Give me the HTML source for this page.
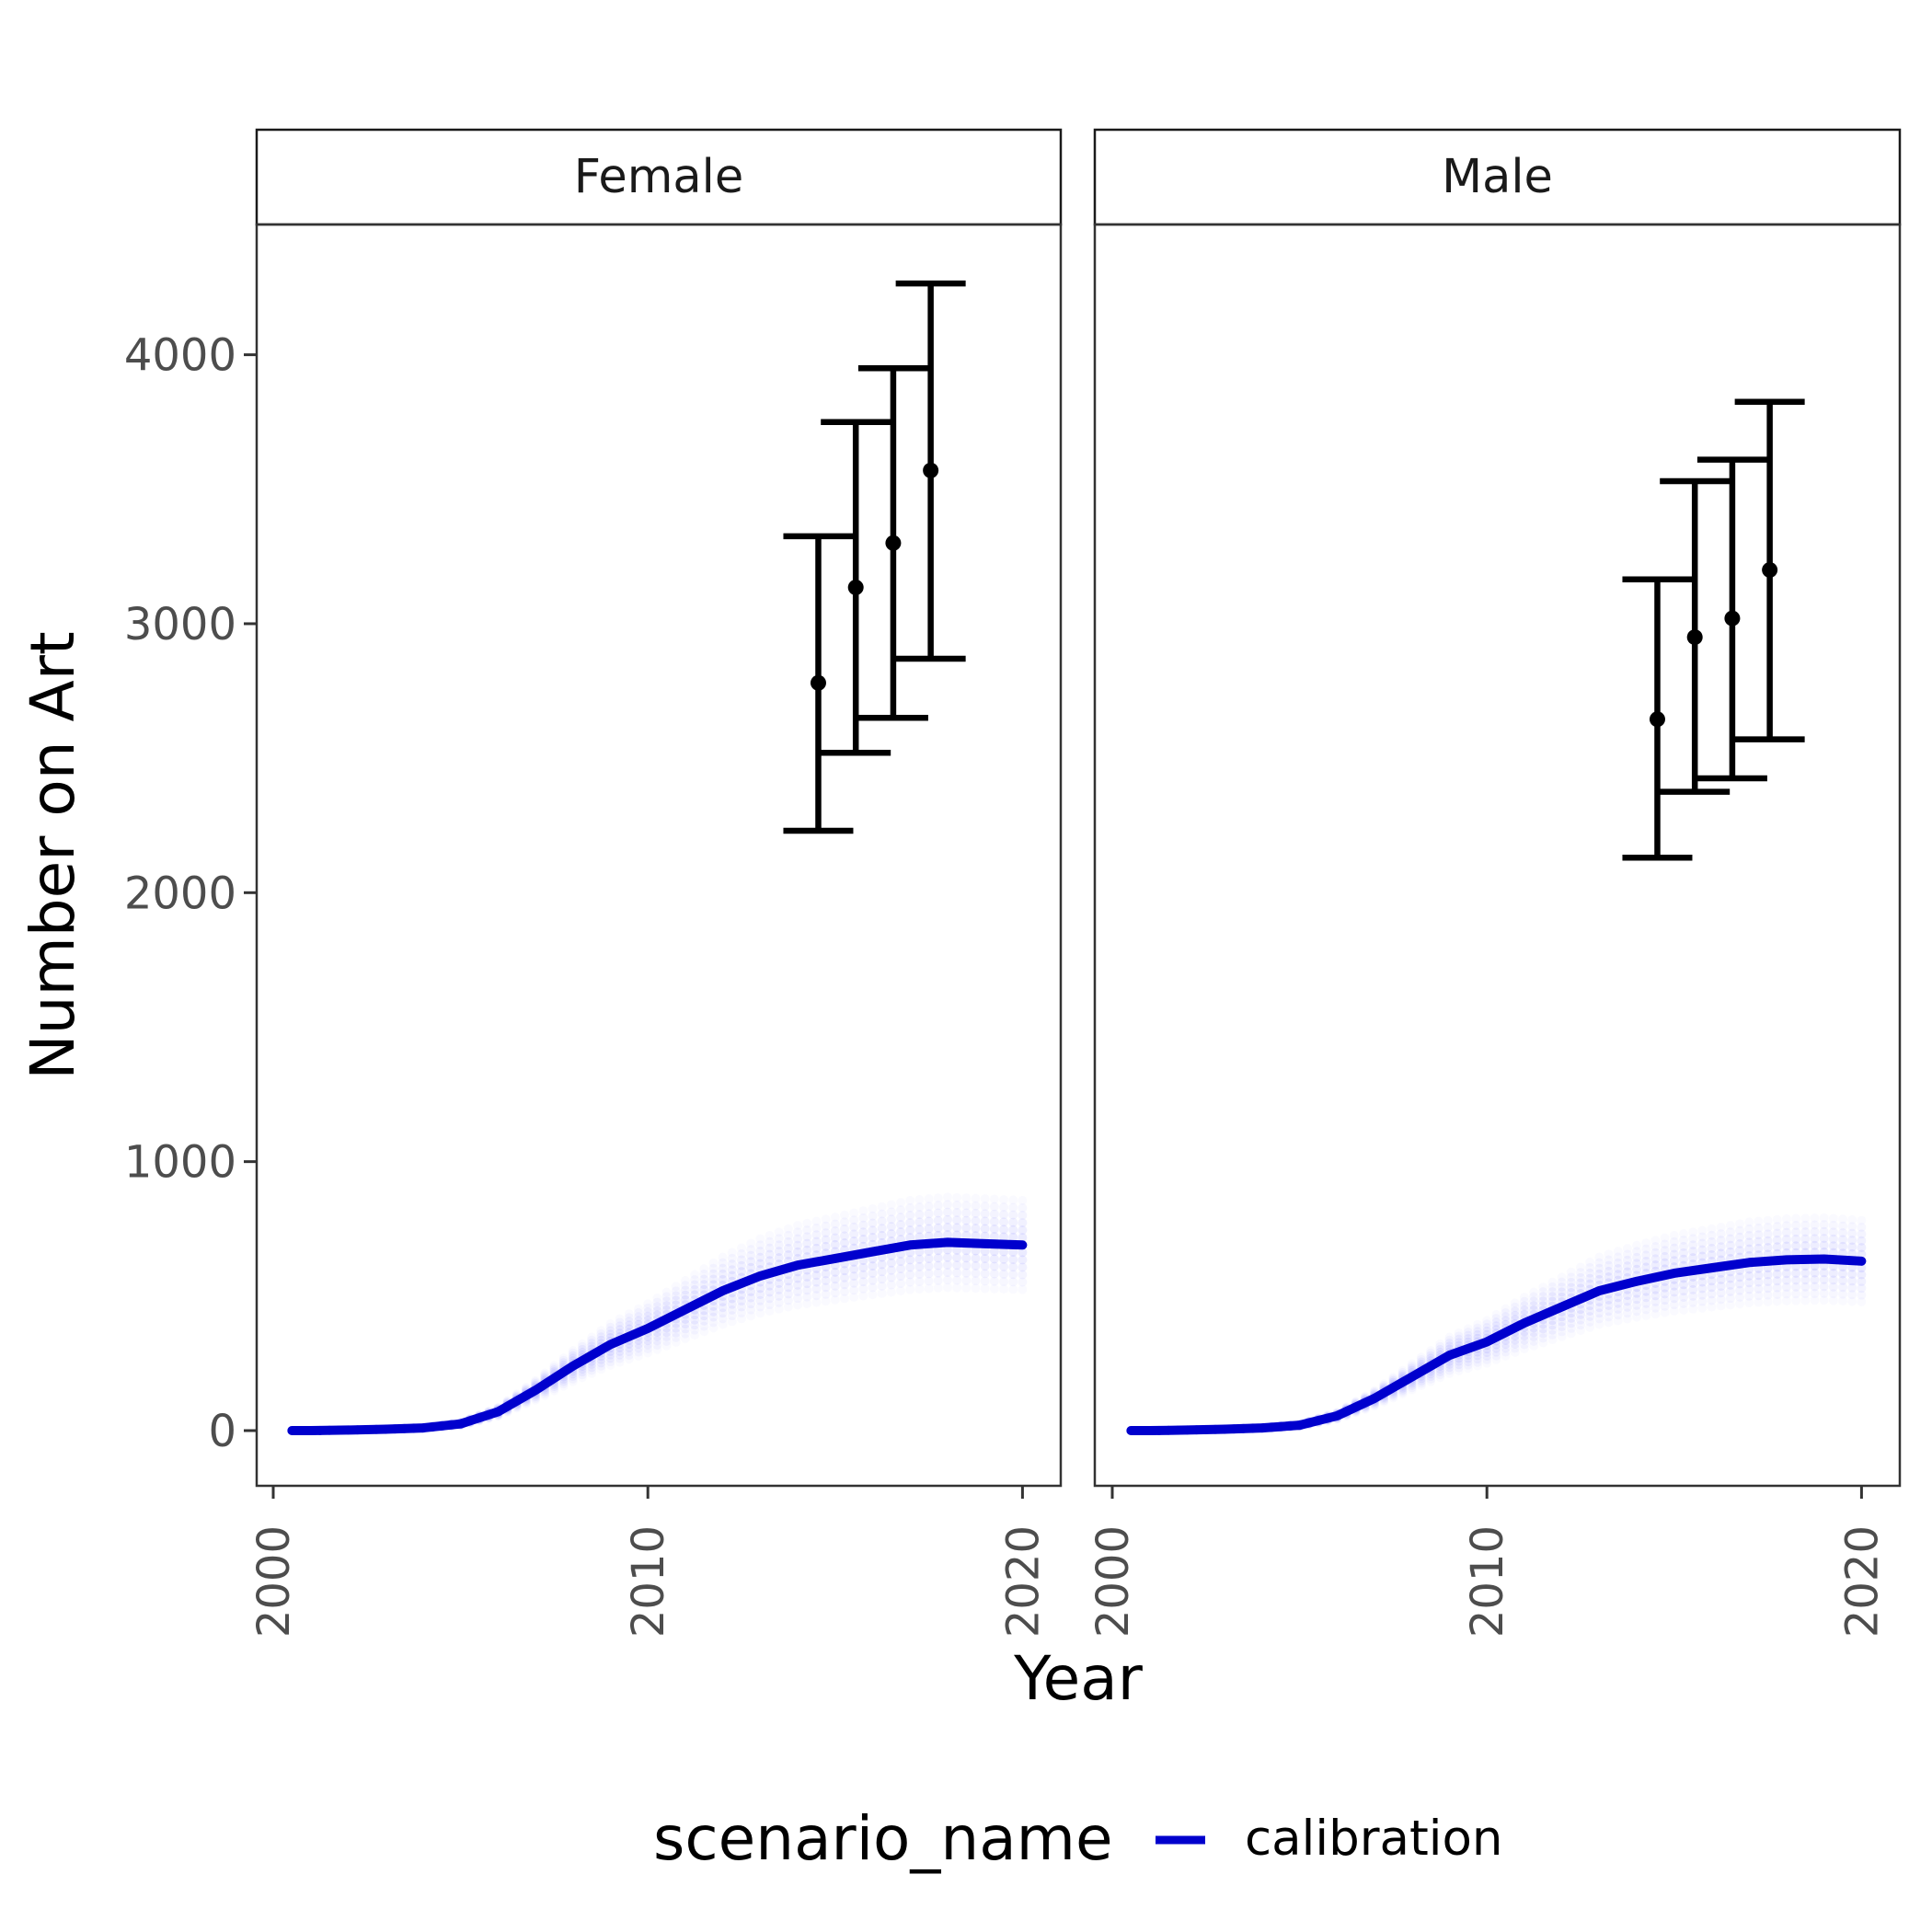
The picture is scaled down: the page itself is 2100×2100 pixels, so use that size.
<!DOCTYPE html>
<html><head><meta charset="utf-8"><style>
html,body{margin:0;padding:0;background:#fff}
svg{display:block}
text{font-family:"DejaVu Sans","Liberation Sans",sans-serif}
</style></head><body>
<svg id="chart" width="2100" height="2100" viewBox="0 0 2100 2100" xmlns="http://www.w3.org/2000/svg">
<rect width="2100" height="2100" fill="#fff"/>
<g id="plot"></g>
<text x="1172" y="1847" font-size="66" text-anchor="middle" fill="#000">Year</text>
<text transform="translate(80,930) rotate(-90)" font-size="66" text-anchor="middle" fill="#000">Number on Art</text>
<g>
<text x="710" y="2021" font-size="66" fill="#000">scenario_name</text>
<line x1="1256" y1="2000" x2="1310" y2="2000" stroke="#0000CD" stroke-width="9"/>
<text x="1353" y="2016" font-size="53" fill="#000">calibration</text>
</g>
</svg>
<script>
const panels = ["Female","Male"];
const years = [2000.5,2001,2002,2003,2004,2005,2006,2007,2008,2009,2010,2011,2012,2013,2014,2015,2016,2017,2018,2019,2020];
const femaleLine = [0,0,2,5,10,25,70,150,240,320,380,450,520,575,615,640,665,690,700,695,690];
const maleLine = [0,0,2,5,10,20,55,120,200,280,330,400,460,520,555,585,605,625,635,638,630];
const obsYears = [2014.55,2015.55,2016.55,2017.55];
const femaleMean = [2780,3135,3300,3570];
const femaleLow = [2230,2520,2650,2870];
const femaleHigh = [3325,3750,3950,4265];
const maleMean = [2645,2950,3020,3200];
const maleLow = [2130,2375,2425,2570];
const maleHigh = [3165,3530,3610,3825];
const yTicks = [0,1000,2000,3000,4000];
const xTicks = [2000,2010,2020];

const NS="http://www.w3.org/2000/svg";
const plotG=document.getElementById('plot');
function mk(tag,attrs,parent){const e=document.createElementNS(NS,tag);for(const k in attrs)e.setAttribute(k,attrs[k]);(parent||plotG).appendChild(e);return e;}
const panelX=[[279,1153],[1190,2065]];
const panelTop=244,panelBot=1615;
function ys(v){return 1555-v*0.29235;}
function xs(p,yr){const x0=p===0?297:1209;return x0+(yr-2000)*40.72;}
const lines=[femaleLine,maleLine],means=[femaleMean,maleMean],lows=[femaleLow,maleLow],highs=[femaleHigh,maleHigh];

panels.forEach((name,p)=>{
  const L=panelX[p][0],R=panelX[p][1];
  const g=mk('g',{});
  
  
  const strip=mk('rect',{x:L,y:141,width:R-L,height:103,fill:'#fff',stroke:'#1a1a1a','stroke-width':2.5},g);
  
  
  const st=mk('text',{x:(L+R)/2,y:209,'font-size':51,'text-anchor':'middle',fill:'#1a1a1a'},g);
  st.textContent=name;
  
  
  const cloud=mk('g',{},g);
  
  
  const ln=lines[p];
  for(let i=0;i<years.length;i++){
    for(let s=0;s<4;s++){
      const yr=years[i]+s*0.25; if(yr>2020)break;
      const j=Math.min(i+1,years.length-1);
      const f=(years[j]===years[i])?0:(yr-years[i])/(years[j]-years[i]);
      const v=ln[i]+(ln[j]-ln[i])*f;
      for(let k=-6;k<=6;k++){
        const vv=v*(1+k*0.04);
        mk('circle',{cx:xs(p,yr),cy:ys(vv),r:5,fill:'#0000ff','fill-opacity':(0.09-Math.abs(k)*0.012).toFixed(3)},cloud);
      }
    }
  }
  const pts=years.map((y,i)=>xs(p,y)+','+ys(ln[i])).join(' ');
  const pl=mk('polyline',{points:pts,fill:'none',stroke:'#0000CD','stroke-width':10,'stroke-linejoin':'round','stroke-linecap':'round'},g);
  
  
  obsYears.forEach((oy,i)=>{
    const x=xs(p,oy),hw=38;
    const eg=mk('g',{stroke:'#000','stroke-width':6.5,fill:'none'},g);
    
    
    mk('line',{x1:x,y1:ys(lows[p][i]),x2:x,y2:ys(highs[p][i])},eg);
    mk('line',{x1:x-hw,y1:ys(lows[p][i]),x2:x+hw,y2:ys(lows[p][i])},eg);
    mk('line',{x1:x-hw,y1:ys(highs[p][i]),x2:x+hw,y2:ys(highs[p][i])},eg);
    const pt=mk('circle',{cx:x,cy:ys(means[p][i]),r:8.5,fill:'#000'},g);
    
    
  });
  const border=mk('rect',{x:L,y:panelTop,width:R-L,height:panelBot-panelTop,fill:'none',stroke:'#333','stroke-width':2.5},g);
  
  
  xTicks.forEach(t=>{
    const x=xs(p,t);
    mk('line',{x1:x,y1:panelBot,x2:x,y2:panelBot+14,stroke:'#333','stroke-width':3},g);
    const tl=mk('text',{transform:`translate(${x+17},${panelBot+43}) rotate(-90)`,'font-size':48,'text-anchor':'end',fill:'#4d4d4d'},g);
    tl.textContent=t;
    
    
  });
  if(p===0){
    yTicks.forEach(t=>{
      const y=ys(t);
      mk('line',{x1:L-14,y1:y,x2:L,y2:y,stroke:'#333','stroke-width':3},g);
      const tl=mk('text',{x:L-22,y:y+17,'font-size':48,'text-anchor':'end',fill:'#4d4d4d'},g);
      tl.textContent=t;
      
      
    });
  }
});
</script>
</body></html>
